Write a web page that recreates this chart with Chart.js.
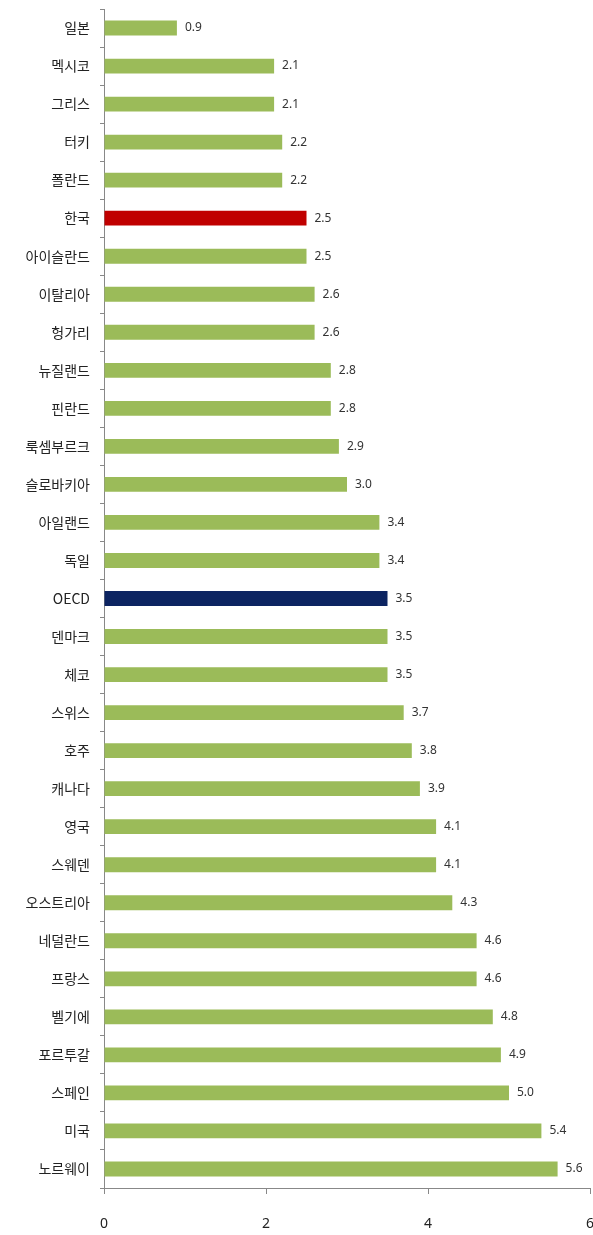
<!DOCTYPE html>
<html>
<head>
<meta charset="utf-8">
<script src="https://cdn.jsdelivr.net/npm/chart.js@4"></script>
<style>
  html, body { margin: 0; padding: 0; background: #fff; overflow: hidden; }
  #wrap { width: 593px; height: 1235px; }
</style>
</head>
<body>
<div id="wrap"><canvas id="oecdChart"></canvas></div>
<script>
const countries = ['일본', '멕시코', '그리스', '터키', '폴란드', '한국', '아이슬란드', '이탈리아', '헝가리', '뉴질랜드',
  '핀란드', '룩셈부르크', '슬로바키아', '아일랜드', '독일', 'OECD', '덴마크', '체코', '스위스', '호주',
  '캐나다', '영국', '스웨덴', '오스트리아', '네덜란드', '프랑스', '벨기에', '포르투갈', '스페인', '미국', '노르웨이'];
const values = [0.9, 2.1, 2.1, 2.2, 2.2, 2.5, 2.5, 2.6, 2.6, 2.8,
  2.8, 2.9, 3.0, 3.4, 3.4, 3.5, 3.5, 3.5, 3.7, 3.8,
  3.9, 4.1, 4.1, 4.3, 4.6, 4.6, 4.8, 4.9, 5.0, 5.4, 5.6];
const xTicks = [0, 2, 4, 6];

const barColors = countries.map(c => c === '한국' ? '#C00000' : (c === 'OECD' ? '#0C2461' : '#9BBB59'));

// value labels at the end of each bar
const valueLabels = {
  id: 'valueLabels',
  afterDatasetsDraw(chart) {
    const ctx = chart.ctx;
    const meta = chart.getDatasetMeta(0);
    ctx.save();
    ctx.font = '12px "Noto Sans", sans-serif';
    ctx.fillStyle = '#333';
    ctx.textBaseline = 'middle';
    ctx.textAlign = 'left';
    meta.data.forEach((bar, i) => {
      ctx.fillText(values[i].toFixed(1), bar.x + 8, bar.y);
    });
    ctx.restore();
  }
};

const ctx = document.getElementById('oecdChart');
new Chart(ctx, {
  type: 'bar',
  data: {
    labels: countries,
    datasets: [{
      data: values,
      backgroundColor: barColors,
      barPercentage: 0.39,
      categoryPercentage: 1
    }]
  },
  options: {
    indexAxis: 'y',
    responsive: true,
    maintainAspectRatio: false,
    animation: false,
    layout: { padding: { top: 9, right: 3, left: 0, bottom: 0 } },
    plugins: {
      legend: { display: false },
      tooltip: { enabled: false }
    },
    scales: {
      x: {
        min: 0,
        max: 6,
        afterBuildTicks(scale) {
          scale.ticks = xTicks.map(v => ({ value: v }));
        },
        afterFit(scale) {
          scale.height = 47;
          scale.paddingRight = 0;
          scale.paddingLeft = 0;
        },
        grid: { drawOnChartArea: false, tickLength: 6, color: '#888' },
        border: { color: '#888' },
        ticks: {
          padding: 22,
          color: '#222',
          font: { family: '"Noto Sans", sans-serif', size: 14 }
        }
      },
      y: {
        afterFit(scale) {
          scale.width = 104;
          scale.paddingTop = 0;
          scale.paddingBottom = 0;
        },
        grid: { drawOnChartArea: false, offset: true, tickLength: 4, color: '#888' },
        border: { color: '#888' },
        ticks: {
          padding: 10,
          color: '#222',
          font: { family: '"Noto Sans CJK KR", sans-serif', size: 14 }
        }
      }
    }
  },
  plugins: [valueLabels]
});
</script>
</body>
</html>
